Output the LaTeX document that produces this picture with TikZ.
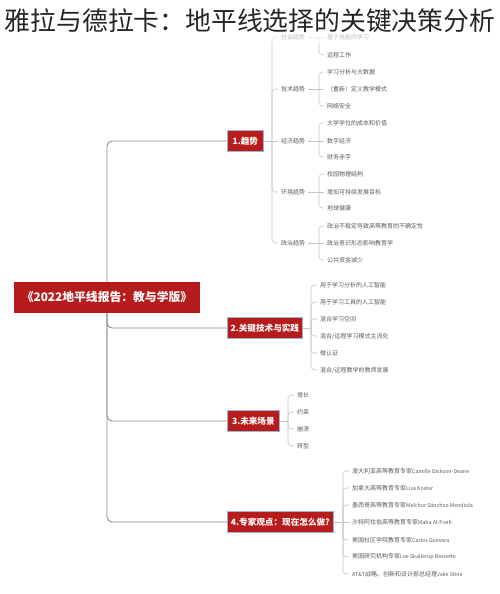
\documentclass[tikz,border=0pt]{standalone}
\usepackage{fontspec}
\setmainfont{Noto Sans CJK SC}
\usetikzlibrary{positioning}
\definecolor{boxred}{HTML}{B71C1C}
\definecolor{boxedge}{HTML}{9FB3CF}
\definecolor{trunkgray}{HTML}{8C8C8C}
\definecolor{twiggray}{HTML}{C4C4C4}
\definecolor{leaftext}{HTML}{5A5A5A}
\newcommand{\en}[1]{{\fontsize{5.3}{7}\selectfont #1}}
\begin{document}
\begin{tikzpicture}[x=1pt,y=-1pt]
\tikzstyle{br}=[draw=boxedge,line width=0.7pt,fill=boxred,text=white,font=\fontsize{8.6}{10}\selectfont\bfseries,minimum height=21pt,inner sep=0pt,anchor=west]
\tikzstyle{lf}=[text=leaftext,font=\fontsize{6}{7}\selectfont,inner sep=3pt,anchor=west]
\tikzstyle{trunk}=[draw=trunkgray,line width=0.9pt,rounded corners=5pt]
\tikzstyle{twig}=[draw=twiggray,line width=0.6pt,rounded corners=3.5pt]
\useasboundingbox (0,0) rectangle (500,594);
% root and main branches
\node[fill=boxred,text=white,font=\fontsize{11.8}{13}\selectfont\bfseries,minimum width=186pt,minimum height=31pt,inner sep=0pt] (root) at (107,297.5) {《2022地平线报告：教与学版》};
\node[br,minimum width=36pt] (b1) at (227,141) {1.趋势};
\node[br,minimum width=75pt] (b2) at (227,328) {2.关键技术与实践};
\node[br,minimum width=52pt] (b3) at (227,421) {3.未来场景};
\node[br,minimum width=106pt] (b4) at (227,522) {4.专家观点：现在怎么做?};
\draw[trunk] (root.north) |- (b1.west); \draw[trunk] (root.south) |- (b2.west);
\draw[trunk] (root.south) |- (b3.west); \draw[trunk] (root.south) |- (b4.west);
% 1. trends
\coordinate (j1) at (272,141);
\node[lf] (c1) at (278,37) {社会趋势}; \node[lf] (c2) at (278,89) {技术趋势}; \node[lf] (c3) at (278,141) {经济趋势};
\node[lf] (c4) at (278,192) {环境趋势}; \node[lf] (c5) at (278,243) {政治趋势};
\draw[twig] (b1.east) -- (j1);
\draw[twig] (j1) |- (c1.west); \draw[twig] (j1) |- (c2.west); \draw[twig] (j1) -- (c3.west); \draw[twig] (j1) |- (c4.west); \draw[twig] (j1) |- (c5.west);
\coordinate (k1) at (319,37); \coordinate (k2) at (319,89); \coordinate (k3) at (319,141); \coordinate (k4) at (319,192); \coordinate (k5) at (319,243);
\node[lf] (l11) at (324,37) {基于技能的学习}; \node[lf] (l12) at (324,55) {远程工作};
\draw[twig] (c1.east) -- (k1) -- (l11.west); \draw[twig] (k1) |- (l12.west);
\node[lf] (l21) at (324,72) {学习分析与大数据}; \node[lf] (l22) at (324,89) {（重新）定义教学模式}; \node[lf] (l23) at (324,106) {网络安全};
\draw[twig] (c2.east) -- (k2); \draw[twig] (k2) |- (l21.west); \draw[twig] (k2) -- (l22.west); \draw[twig] (k2) |- (l23.west);
\node[lf] (l31) at (324,123) {大学学位的成本和价值}; \node[lf] (l32) at (324,141) {数字经济}; \node[lf] (l33) at (324,157) {财务赤字};
\draw[twig] (c3.east) -- (k3); \draw[twig] (k3) |- (l31.west); \draw[twig] (k3) -- (l32.west); \draw[twig] (k3) |- (l33.west);
\node[lf] (l41) at (324,174) {校园物理结构}; \node[lf] (l42) at (324,192) {增加可持续发展目标}; \node[lf] (l43) at (324,208) {地球健康};
\draw[twig] (c4.east) -- (k4); \draw[twig] (k4) |- (l41.west); \draw[twig] (k4) -- (l42.west); \draw[twig] (k4) |- (l43.west);
\node[lf] (l51) at (324,226) {政治不稳定导致高等教育的不确定性}; \node[lf] (l52) at (324,243) {政治意识形态影响教育学}; \node[lf] (l53) at (324,260) {公共资金减少};
\draw[twig] (c5.east) -- (k5); \draw[twig] (k5) |- (l51.west); \draw[twig] (k5) -- (l52.west); \draw[twig] (k5) |- (l53.west);
% 2. key technologies and practices
\coordinate (j2) at (311,328);
\node[lf] (m1) at (317,285) {用于学习分析的人工智能}; \node[lf] (m2) at (317,302) {用于学习工具的人工智能}; \node[lf] (m3) at (317,319) {混合学习空间};
\node[lf] (m4) at (317,336) {混合/远程学习模式主流化}; \node[lf] (m5) at (317,353) {微认证}; \node[lf] (m6) at (317,370) {混合/远程教学的教师发展};
\draw[twig] (b2.east) -- (j2);
\draw[twig] (j2) |- (m1.west); \draw[twig] (j2) |- (m2.west); \draw[twig] (j2) |- (m3.west); \draw[twig] (j2) |- (m4.west); \draw[twig] (j2) |- (m5.west); \draw[twig] (j2) |- (m6.west);
% 3. future scenarios
\coordinate (j3) at (288,421);
\node[lf] (s1) at (294,395) {增长}; \node[lf] (s2) at (294,412) {约束}; \node[lf] (s3) at (294,429) {崩溃}; \node[lf] (s4) at (294,446) {转型};
\draw[twig] (b3.east) -- (j3);
\draw[twig] (j3) |- (s1.west); \draw[twig] (j3) |- (s2.west); \draw[twig] (j3) |- (s3.west); \draw[twig] (j3) |- (s4.west);
% 4. expert views
\coordinate (j4) at (343,522);
\node[lf] (e1) at (349,471) {澳大利亚高等教育专家\en{Camille Dickson-Deane}}; \node[lf] (e2) at (349,488) {加拿大高等教育专家\en{Lisa Koster}};
\node[lf] (e3) at (349,505) {墨西哥高等教育专家\en{Melchor Sánchez-Mendiola}}; \node[lf] (e4) at (349,522) {沙特阿拉伯高等教育专家\en{Maha Al-Freih}};
\node[lf] (e5) at (349,540) {美国社区学院教育专家\en{Carlos Guevara}}; \node[lf] (e6) at (349,557) {美国研究机构专家\en{Lee Skallerup Bessette}};
\node[lf] (e7) at (349,574) {\en{AT\&T}战略、创新和设计部总经理\en{Jake Stine}};
\draw[twig] (b4.east) -- (j4);
\draw[twig] (j4) |- (e1.west); \draw[twig] (j4) |- (e2.west); \draw[twig] (j4) |- (e3.west); \draw[twig] (j4) -- (e4.west);
\draw[twig] (j4) |- (e5.west); \draw[twig] (j4) |- (e6.west); \draw[twig] (j4) |- (e7.west);
% title over the top
\node[fill=white,fill opacity=0.6,text opacity=1,text=black!85,font=\fontsize{25.8}{28}\selectfont,minimum width=500pt,minimum height=46pt,inner sep=0pt] (title) at (250,21) {雅拉与德拉卡：地平线选择的关键决策分析};
\end{tikzpicture}
\end{document}
